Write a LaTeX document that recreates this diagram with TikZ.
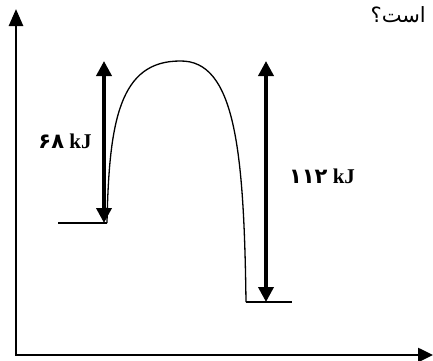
\documentclass[tikz,border=0pt]{standalone}
\usepackage{fontspec}
\setmainfont{Liberation Serif}
\newfontfamily\arabicfont[Script=Arabic]{DejaVu Sans}
\TeXXeTstate=1
\usetikzlibrary{arrows.meta}
\tikzset{
  axis/.style={line width=2.6pt,{Triangle[width=14pt,length=17pt]}-{Triangle[width=14pt,length=15pt]}},
  gap/.style={line width=3.6pt,{Triangle[width=15pt,length=15pt]}-{Triangle[width=15pt,length=15pt]}},
  level/.style={line width=1.6pt},
  profile/.style={line width=1.3pt},
  enlabel/.style={font=\fontsize{21}{24}\selectfont\bfseries,inner sep=0pt},
  qtext/.style={font=\fontsize{21}{24}\selectfont\arabicfont,inner sep=0pt,anchor=east}
}

\begin{document}
\begin{tikzpicture}[x=1pt,y=-1pt]
\useasboundingbox (0,0) rectangle (433,360);
% axes
\coordinate (origin) at (16,355);
\coordinate (ytop) at (16,9);
\coordinate (xend) at (433,355);
\draw[axis] (ytop) -- (origin) -- (xend);
% energy levels
\coordinate (r1) at (58,223);
\coordinate (r2) at (107,223);
\coordinate (p1) at (246,302);
\coordinate (p2) at (292,302);
\coordinate (peak) at (180,61);
\draw[level] (r1) -- (r2);
\draw[level] (p1) -- (p2);
\draw[profile] (r2) .. controls (109,120) and (120,61) .. (peak)
  .. controls (235,60) and (244,150) .. (p1);
% energy gaps
\coordinate (atop) at (104,61);
\coordinate (abot) at (104,223);
\coordinate (btop) at (266,61);
\coordinate (bbot) at (266,302);
\draw[gap] (atop) -- (abot);
\draw[gap] (btop) -- (bbot);
\node[enlabel] (ea) at (65,141) {{\arabicfont ۶۸} kJ};
\node[enlabel] (dh) at (322,176) {{\arabicfont ۱۱۲} kJ};
\node[qtext] (q) at (426,15) {\beginR است؟\endR};
\end{tikzpicture}
\end{document}
